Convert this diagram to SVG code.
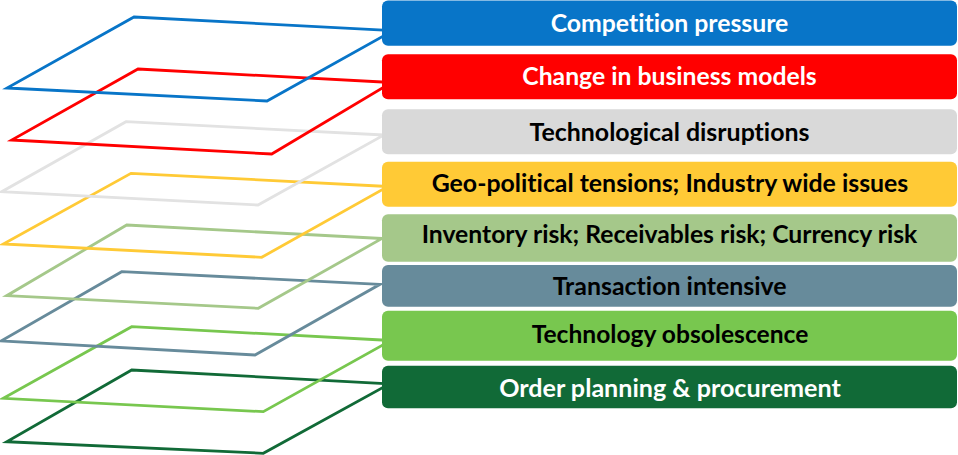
<svg xmlns="http://www.w3.org/2000/svg" width="958" height="455" viewBox="0 0 958 455">
<style>
.layer{fill:none;stroke-width:2.8;stroke-linejoin:miter}
.box{stroke:none}
.lbl{font-family:Lato,"Open Sans","Liberation Sans",sans-serif;font-weight:bold;font-size:24px;text-anchor:middle;font-variant-ligatures:none;font-feature-settings:"liga" 0,"clig" 0}
.w{fill:#ffffff}
.k{fill:#000000}
</style>
<rect width="958" height="455" fill="#ffffff"/>
<g id="connectors">
<polygon class="layer" stroke="#116A37" points="131.7,370 389.4,383.9 263.3,453.3 6.7,441.7"/>
<polygon class="layer" stroke="#78C74F" points="131.7,326.7 391,340.5 263.3,411.7 3.3,398.3"/>
<polygon class="layer" stroke="#678B9B" points="121.7,271.7 380,284.3 255,355 1,341"/>
<polygon class="layer" stroke="#A5C88A" points="126.7,225 382,238.5 258.3,308.3 6.7,295.7"/>
<polygon class="layer" stroke="#FFCA36" points="131,173.3 388,186.5 261.7,257.3 3.3,244"/>
<polygon class="layer" stroke="#E2E2E2" points="126,121.7 384,135 258,205 1.7,191.7"/>
<polygon class="layer" stroke="#FF0000" points="138,69 391.7,82.5 271.7,154 11.7,140"/>
<polygon class="layer" stroke="#0875C8" points="134,17 393,30.6 267,101 7,88"/>
</g>
<g id="n1"><rect class="box" x="382" y="0.5" width="575" height="45.2" rx="6" fill="#0875C8"/><text class="lbl w" x="669.5" y="32.3" textLength="237.7" lengthAdjust="spacingAndGlyphs">Competition pressure</text></g>
<g id="n2"><rect class="box" x="382" y="54.3" width="575" height="45" rx="6" fill="#FF0000"/><text class="lbl w" x="669.5" y="85" textLength="294.4" lengthAdjust="spacingAndGlyphs">Change in business models</text></g>
<g id="n3"><rect class="box" x="382" y="109.3" width="575" height="45" rx="6" fill="#D9D9D9"/><text class="lbl k" x="669.5" y="140.5" textLength="280" lengthAdjust="spacingAndGlyphs">Technological disruptions</text></g>
<g id="n4"><rect class="box" x="382" y="161.7" width="575" height="45" rx="6" fill="#FFCA36"/><text class="lbl k" x="670" y="192.3" textLength="476.6" lengthAdjust="spacingAndGlyphs">Geo-political tensions; Industry wide issues</text></g>
<g id="n5"><rect class="box" x="382" y="214.3" width="575" height="47.4" rx="6" fill="#A5C88A"/><text class="lbl k" x="669.5" y="243.3" textLength="495.6" lengthAdjust="spacingAndGlyphs">Inventory risk; Receivables risk; Currency risk</text></g>
<g id="n6"><rect class="box" x="382" y="265" width="575" height="41.7" rx="6" fill="#678B9B"/><text class="lbl k" x="669.7" y="295" textLength="234" lengthAdjust="spacingAndGlyphs">Transaction intensive</text></g>
<g id="n7"><rect class="box" x="382" y="310.7" width="575" height="50" rx="6" fill="#78C74F"/><text class="lbl k" x="670" y="343.3" textLength="276.6" lengthAdjust="spacingAndGlyphs">Technology obsolescence</text></g>
<g id="n8"><rect class="box" x="382" y="365.7" width="575" height="42.6" rx="6" fill="#116A37"/><text class="lbl w" x="670" y="396.7" textLength="341.7" lengthAdjust="spacingAndGlyphs">Order planning &amp; procurement</text></g>
</svg>
